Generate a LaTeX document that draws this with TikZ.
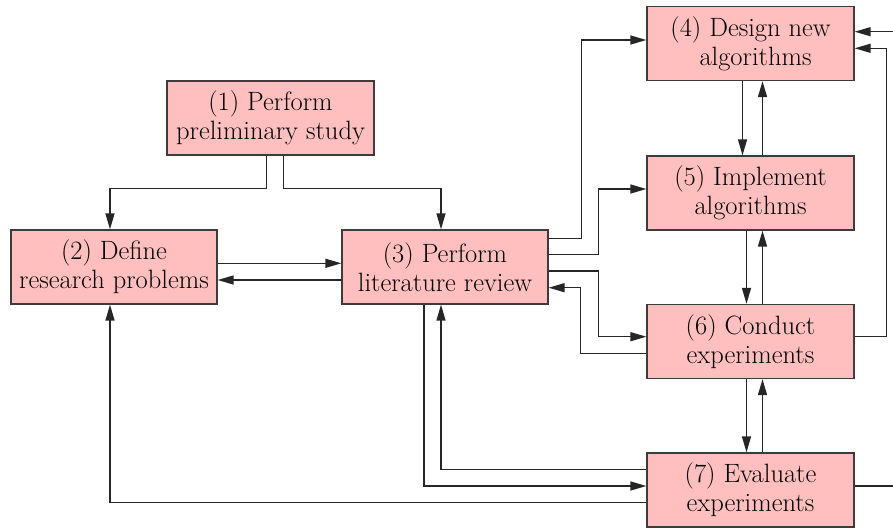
\documentclass[tikz,border=0pt]{standalone}
\usepackage{fontspec}
\usetikzlibrary{arrows.meta}
\definecolor{boxpink}{RGB}{255,191,191}
\definecolor{boxline}{RGB}{60,60,60}
\tikzset{
  box/.style={draw=boxline, line width=1.3pt, fill=boxpink, minimum width=207pt,
    minimum height=74pt, inner sep=0pt, align=center,
    font=\fontsize{26.5}{29}\selectfont},
  arr/.style={draw=black!85, line width=1.4pt, -{Triangle[length=16pt,width=9pt]}},
  ln/.style={draw=black!85, line width=1.4pt}
}
\begin{document}
\begin{tikzpicture}[x=1pt,y=-1pt]
\useasboundingbox (0,0) rectangle (893,528);
\node[box] (n1) at (270.5,118) {(1) Perform\\preliminary study};
\node[box, minimum width=206pt] (n2) at (114,267) {(2) Define\\research problems};
\node[box, minimum width=206pt] (n3) at (445,267) {(3) Perform\\literature review};
\node[box] (n4) at (750.5,43.5) {(4) Design new\\\hspace*{10pt}algorithms};
\node[box] (n5) at (750.5,193) {(5) Implement\\algorithms};
\node[box] (n6) at (750.5,341.5) {(6) Conduct\\experiments};
\node[box] (n7) at (750.5,490) {(7) Evaluate\\experiments};
\coordinate (e1) at (893,31.7);
\coordinate (e2) at (893,486);
% from (1)
\draw[arr] ([xshift=-4pt]n1.south) -- ++(0,33) -| ([xshift=-4pt]n2.north);
\draw[arr] ([xshift=13pt]n1.south) -- ++(0,33) -| ([xshift=-4pt]n3.north);
% (2) <-> (3)
\draw[arr] ([yshift=3.7pt]n2.east) -- ([yshift=3.7pt]n3.west);
\draw[arr] ([yshift=-13pt]n3.west) -- ([yshift=-13pt]n2.east);
% from (3) right
\draw[arr] ([yshift=28.7pt]n3.east) -- ++(33,0) |- ([yshift=3.5pt]n4.west);
\draw[arr] ([yshift=12.7pt]n3.east) -- ++(50,0) |- ([yshift=4pt]n5.west);
\draw[arr] ([yshift=-4pt]n3.east) -- ++(50,0) |- ([yshift=4.8pt]n6.west);
\draw[arr] ([yshift=-11.8pt]n6.west) -- ++(-66,0) |- ([yshift=-20.7pt]n3.east);
% vertical pairs
\draw[arr] ([xshift=-8pt]n4.south) -- ([xshift=-8pt]n5.north);
\draw[arr] ([xshift=12pt]n5.north) -- ([xshift=12pt]n4.south);
\draw[arr] ([xshift=-4pt]n5.south) -- ([xshift=-4pt]n6.north);
\draw[arr] ([xshift=12pt]n6.north) -- ([xshift=12pt]n5.south);
\draw[arr] ([xshift=-4pt]n6.south) -- ([xshift=-4pt]n7.north);
\draw[arr] ([xshift=12pt]n7.north) -- ([xshift=12pt]n6.south);
% from (7)
\draw[arr] ([yshift=20.5pt]n7.west) -| ([xshift=-4pt]n3.south);
\draw[arr] ([xshift=-21pt]n3.south) |- ([yshift=4pt]n7.west);
\draw[arr] ([yshift=-12.5pt]n7.west) -| ([xshift=-4pt]n2.south);
% right side
\draw[arr] ([yshift=4.8pt]n6.east) -- ++(32,0) |- ([yshift=-4.8pt]n4.east);
\draw[arr] (e1) -- (e1 -| n4.east);
\draw[ln] ([yshift=4pt]n7.east) -- (e2);
\end{tikzpicture}
\end{document}
